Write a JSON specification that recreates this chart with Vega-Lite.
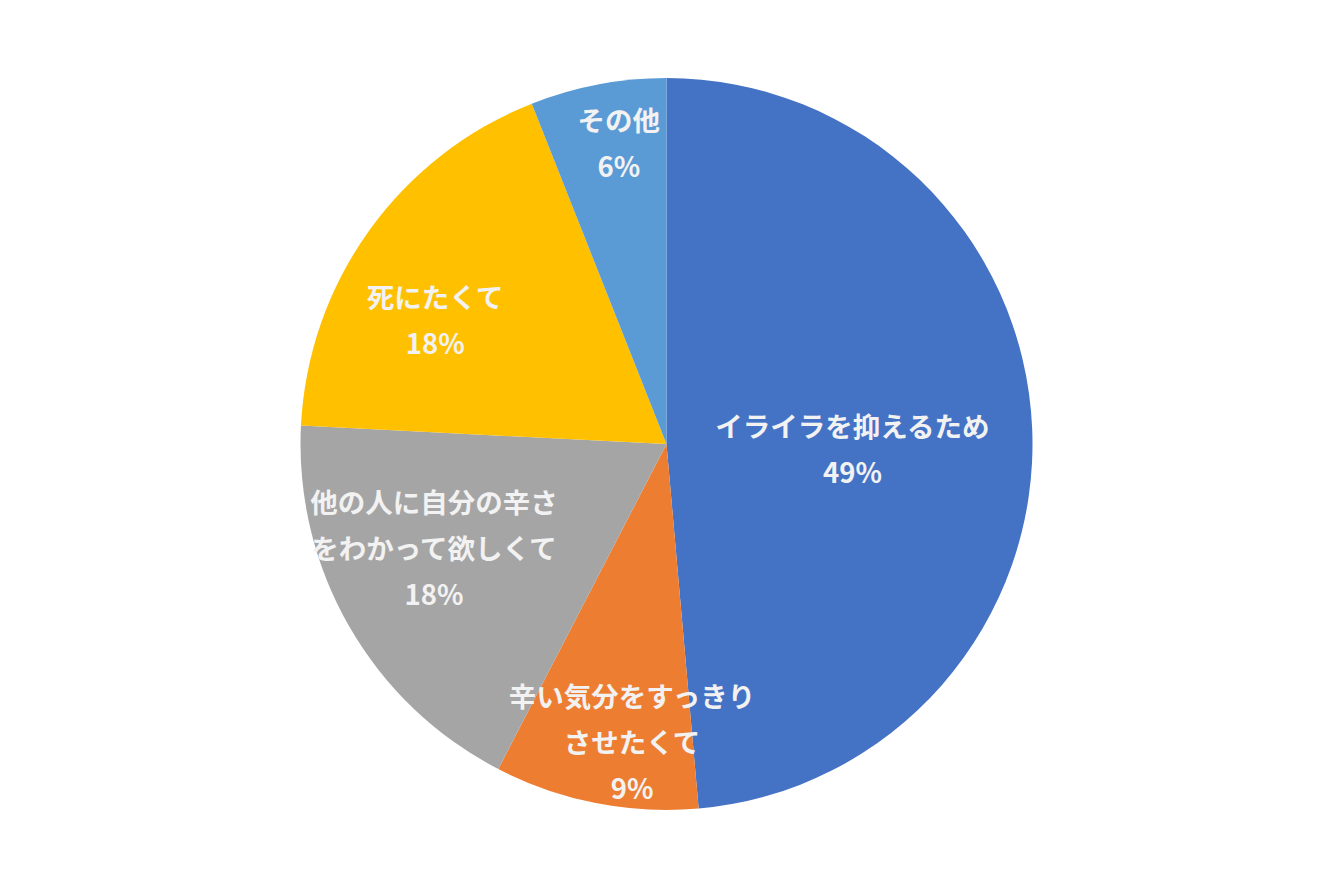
{
  "$schema": "https://vega.github.io/schema/vega-lite/v6.json",
  "width": 1333,
  "height": 888,
  "autosize": {"type": "fit", "contains": "padding"},
  "padding": 0,
  "background": "white",
  "view": {"stroke": null},
  "config": {
    "text": {"font": "Noto Sans CJK JP", "fontWeight": "bold", "fontSize": 27.5, "lineHeight": 46, "lineBreak": "\n", "align": "center", "baseline": "middle", "color": "#F2F2F2"}
  },
  "data": {
    "values": [
      {"i": 1, "reason": "イライラを抑えるため", "share": 48.6},
      {"i": 2, "reason": "辛い気分をすっきり\nさせたくて", "share": 9.0},
      {"i": 3, "reason": "他の人に自分の辛さ\nをわかって欲しくて", "share": 18.2},
      {"i": 4, "reason": "死にたくて", "share": 18.2},
      {"i": 5, "reason": "その他", "share": 6.0}
    ]
  },
  "transform": [
    {"stack": "share", "groupby": [], "sort": [{"field": "i", "order": "ascending"}], "as": ["s0", "s1"]},
    {"calculate": "(datum.s0 + datum.s1) / 2", "as": "mid"},
    {"calculate": "datum.reason + '\\n' + format(datum.share / 100, '.0%')", "as": "label"}
  ],
  "layer": [
    {
      "mark": {"type": "arc", "outerRadius": 366, "stroke": null},
      "encoding": {
        "theta": {"field": "s0", "type": "quantitative", "stack": null, "scale": {"domain": [0, 100], "range": [0, 6.283185307]}},
        "theta2": {"field": "s1"},
        "color": {
          "field": "i",
          "type": "nominal",
          "scale": {
            "domain": [1, 2, 3, 4, 5],
            "range": ["#4472C4", "#ED7D31", "#A5A5A5", "#FFC000", "#5B9BD5"]
          },
          "legend": null
        }
      }
    },
    {
      "transform": [{"filter": "datum.i == 1"}],
      "mark": {"type": "text", "radius": 186, "thetaOffset": 0.077, "dy": -21},
      "encoding": {
        "theta": {"field": "mid", "type": "quantitative", "stack": null},
        "text": {"field": "label"}
      }
    },
    {
      "transform": [{"filter": "datum.i == 2"}],
      "mark": {"type": "text", "radius": 301, "thetaOffset": -0.08, "dy": -44},
      "encoding": {
        "theta": {"field": "mid", "type": "quantitative", "stack": null},
        "text": {"field": "label"}
      }
    },
    {
      "transform": [{"filter": "datum.i == 3"}],
      "mark": {"type": "text", "radius": 255, "thetaOffset": 0.098, "dy": -44},
      "encoding": {
        "theta": {"field": "mid", "type": "quantitative", "stack": null},
        "text": {"field": "label"}
      }
    },
    {
      "transform": [{"filter": "datum.i == 4"}],
      "mark": {"type": "text", "radius": 262, "thetaOffset": -0.133, "dy": -21},
      "encoding": {
        "theta": {"field": "mid", "type": "quantitative", "stack": null},
        "text": {"field": "label"}
      }
    },
    {
      "transform": [{"filter": "datum.i == 5"}],
      "mark": {"type": "text", "radius": 304, "thetaOffset": 0.031, "dy": -21},
      "encoding": {
        "theta": {"field": "mid", "type": "quantitative", "stack": null},
        "text": {"field": "label"}
      }
    }
  ]
}
